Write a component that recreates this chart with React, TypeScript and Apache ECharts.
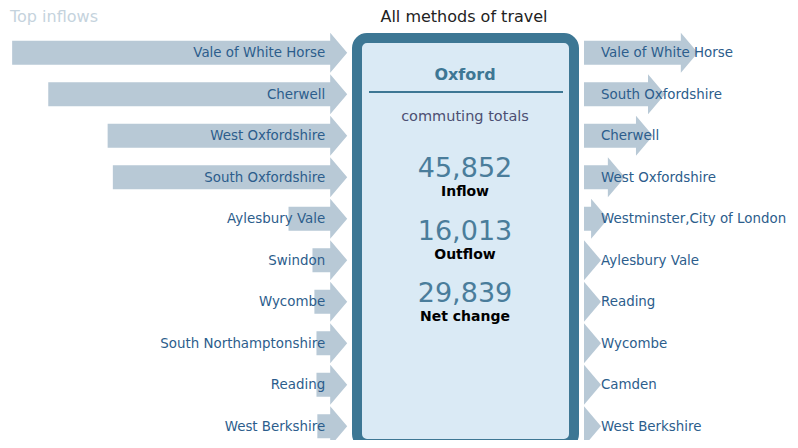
import React, { useEffect, useRef } from "react";
import * as echarts from "echarts";

const inflowNames = [
  "Vale of White Horse",
  "Cherwell",
  "West Oxfordshire",
  "South Oxfordshire",
  "Aylesbury Vale",
  "Swindon",
  "Wycombe",
  "South Northamptonshire",
  "Reading",
  "West Berkshire",
];
const inflowValues = [9650, 8610, 6900, 6750, 1690, 1000, 945, 885, 885, 860];

const outflowNames = [
  "Vale of White Horse",
  "South Oxfordshire",
  "Cherwell",
  "West Oxfordshire",
  "Westminster,City of London",
  "Aylesbury Vale",
  "Reading",
  "Wycombe",
  "Camden",
  "West Berkshire",
];
const outflowValues = [3260, 2320, 1975, 1170, 690, 450, 420, 330, 300, 280];

const totalLabels = ["Inflow", "Outflow", "Net change"];
const totalInflow = 45852;
const totalOutflow = 16013;
const totalValues = [totalInflow, totalOutflow, totalInflow - totalOutflow];

const ARROW = "#b8c9d6";
const LABEL = "#2c5d8c";
const FRAME = "#3d7794";
const FONT = "DejaVu Sans, Verdana, sans-serif";
const HEAD = 17;
const SHAFT_H = 12;
const HEAD_H = 20;
const PX_PER_UNIT = 349.2 / 10000;

function fmt(n: number) {
  return n.toLocaleString("en-GB");
}

function makeRender(side: "left" | "right", names: string[]) {
  return (params: any, api: any) => {
    const val = api.value(0);
    const idx = api.value(1);
    const p0 = api.coord([0, idx]);
    const p1 = api.coord([val, idx]);
    const len = Math.max(HEAD, Math.abs(p1[0] - p0[0]));
    const y = p0[1];
    let pts: number[][];
    let text: any;
    if (side === "left") {
      const tip = p0[0];
      pts = [
        [tip - len, y - SHAFT_H],
        [tip - HEAD, y - SHAFT_H],
        [tip - HEAD, y - HEAD_H],
        [tip, y],
        [tip - HEAD, y + HEAD_H],
        [tip - HEAD, y + SHAFT_H],
        [tip - len, y + SHAFT_H],
      ];
      text = {
        type: "text",
        style: {
          text: names[idx],
          x: tip - 22,
          y,
          align: "right",
          verticalAlign: "middle",
          fill: LABEL,
          font: `13.4px ${FONT}`,
        },
      };
    } else {
      const tail = p0[0];
      const tip = tail + len;
      pts = [
        [tail, y - SHAFT_H],
        [tip - HEAD, y - SHAFT_H],
        [tip - HEAD, y - HEAD_H],
        [tip, y],
        [tip - HEAD, y + HEAD_H],
        [tip - HEAD, y + SHAFT_H],
        [tail, y + SHAFT_H],
      ];
      text = {
        type: "text",
        style: {
          text: names[idx],
          x: tail + 17,
          y,
          align: "left",
          verticalAlign: "middle",
          fill: LABEL,
          font: `13.4px ${FONT}`,
        },
      };
    }
    return {
      type: "group",
      children: [
        { type: "polygon", shape: { points: pts }, style: { fill: ARROW } },
        text,
      ],
    };
  };
}

export default function App() {
  const ref = useRef<HTMLDivElement>(null);
  useEffect(() => {
    if (!ref.current) return;
    const chart = echarts.init(ref.current, undefined, { renderer: "svg" });
    const cx = 465;
    const totalsGraphic: any[] = [];
    const numY = [167, 230, 292];
    totalValues.forEach((v, i) => {
      totalsGraphic.push({
        type: "text",
        x: cx,
        y: numY[i],
        style: {
          text: fmt(v),
          align: "center",
          verticalAlign: "middle",
          fill: "#4a7d9b",
          font: `27px ${FONT}`,
        },
        z: 10,
      });
      totalsGraphic.push({
        type: "text",
        x: cx,
        y: numY[i] + 24,
        style: {
          text: totalLabels[i],
          align: "center",
          verticalAlign: "middle",
          fill: "#000",
          font: `bold 14px ${FONT}`,
        },
        z: 10,
      });
    });
    const rightMax = 6000;
    chart.setOption({
      animation: false,
      backgroundColor: "#ffffff",
      grid: [
        { left: -2, width: 10000 * PX_PER_UNIT, top: 32, height: 415 },
        { left: 584, width: rightMax * PX_PER_UNIT, top: 32, height: 415 },
      ],
      xAxis: [
        { type: "value", gridIndex: 0, min: 0, max: 10000, inverse: true, show: false },
        { type: "value", gridIndex: 1, min: 0, max: rightMax, show: false },
      ],
      yAxis: [
        { type: "category", gridIndex: 0, data: inflowNames, inverse: true, show: false },
        { type: "category", gridIndex: 1, data: outflowNames, inverse: true, show: false },
      ],
      graphic: [
        {
          type: "text",
          x: 10,
          y: 16,
          style: {
            text: "Top inflows",
            align: "left",
            verticalAlign: "middle",
            fill: "#c5d3dd",
            font: `16px ${FONT}`,
          },
        },
        {
          type: "text",
          x: 464,
          y: 16,
          style: {
            text: "All methods of travel",
            align: "center",
            verticalAlign: "middle",
            fill: "#222",
            font: `16px ${FONT}`,
          },
        },
        {
          type: "rect",
          shape: { x: 357, y: 38, width: 217, height: 406, r: 10 },
          style: { fill: "#daeaf5", stroke: FRAME, lineWidth: 10 },
          z: 5,
        },
        {
          type: "text",
          x: cx,
          y: 74,
          style: {
            text: "Oxford",
            align: "center",
            verticalAlign: "middle",
            fill: FRAME,
            font: `bold 16px ${FONT}`,
          },
          z: 10,
        },
        {
          type: "line",
          shape: { x1: 369, y1: 92, x2: 563, y2: 92 },
          style: { stroke: FRAME, lineWidth: 2 },
          z: 10,
        },
        {
          type: "text",
          x: cx,
          y: 116,
          style: {
            text: "commuting totals",
            align: "center",
            verticalAlign: "middle",
            fill: "#4c4f72",
            font: `14.5px ${FONT}`,
          },
          z: 10,
        },
        ...totalsGraphic,
      ],
      series: [
        {
          type: "custom",
          xAxisIndex: 0,
          yAxisIndex: 0,
          data: inflowValues.map((v, i) => [v, i]),
          renderItem: makeRender("left", inflowNames),
          silent: true,
        },
        {
          type: "custom",
          xAxisIndex: 1,
          yAxisIndex: 1,
          data: outflowValues.map((v, i) => [v, i]),
          renderItem: makeRender("right", outflowNames),
          silent: true,
        },
      ],
    });
    return () => chart.dispose();
  }, []);
  return <div ref={ref} style={{ width: 798, height: 448, margin: -8 }} />;
}
